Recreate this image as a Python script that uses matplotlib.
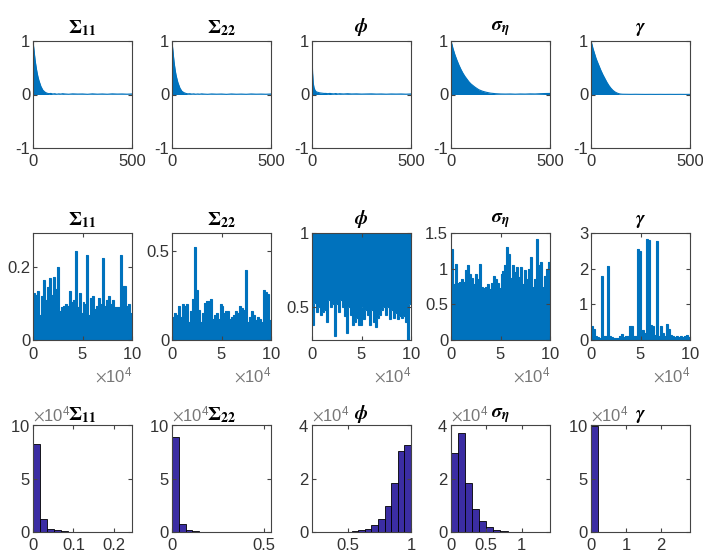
import numpy as np
import matplotlib
matplotlib.use("Agg")
import matplotlib.pyplot as plt
from matplotlib.ticker import FormatStrFormatter, ScalarFormatter

# ---- data ----
titles = [r"$\mathbf{\Sigma_{11}}$", r"$\mathbf{\Sigma_{22}}$", r"$\boldsymbol{\phi}$",
          r"$\boldsymbol{\sigma}_{\boldsymbol{\eta}}$", r"$\boldsymbol{\gamma}$"]

# autocorrelation (row 1)
acf_lags = [0, 3, 6, 10, 15, 20, 25, 30, 40, 50, 60, 70, 80, 90, 100, 110, 120, 130, 140,
            150, 160, 180, 200, 225, 250, 275, 300, 325, 350, 375, 400, 425, 450, 475, 500]
acf_sig11 = [1.0, 0.9, 0.8, 0.66, 0.53, 0.42, 0.33, 0.26, 0.15, 0.08, 0.045, 0.025, 0.015,
             0.02, 0.01, 0.015, 0.005, 0.012, 0.008, 0.015, 0.01, 0.005, 0.012, 0.008, 0.01,
             0.004, 0.012, 0.006, 0.01, 0.005, 0.012, 0.008, 0.01, 0.006, 0.01]
acf_sig22 = [1.0, 0.88, 0.77, 0.62, 0.48, 0.37, 0.29, 0.22, 0.12, 0.06, 0.035, 0.02, 0.012,
             0.015, 0.008, 0.012, 0.005, 0.01, 0.006, 0.012, 0.008, 0.004, 0.01, 0.006, 0.009,
             0.003, 0.01, 0.005, 0.008, 0.004, 0.01, 0.006, 0.008, 0.005, 0.009]
acf_phi = [0.78, 0.4, 0.22, 0.13, 0.08, 0.055, 0.045, 0.04, 0.03, 0.025, 0.02, 0.02, 0.015,
           0.02, 0.015, 0.012, 0.018, 0.01, 0.015, 0.012, 0.01, 0.015, 0.01, 0.012, 0.008,
           0.01, 0.012, 0.008, 0.01, 0.006, 0.01, 0.008, 0.01, 0.006, 0.01]
acf_sigeta = [1.0, 0.96, 0.92, 0.86, 0.8, 0.74, 0.69, 0.64, 0.55, 0.47, 0.4, 0.34, 0.29,
              0.24, 0.2, 0.17, 0.14, 0.115, 0.09, 0.075, 0.06, 0.04, 0.025, 0.015, 0.01,
              0.008, 0.01, 0.006, 0.01, 0.008, 0.012, 0.01, 0.015, 0.018, 0.02]
acf_gamma = [1.0, 0.96, 0.92, 0.86, 0.8, 0.74, 0.68, 0.63, 0.54, 0.45, 0.37, 0.3, 0.23,
             0.17, 0.12, 0.08, 0.05, 0.03, 0.015, 0.008, 0.005, 0.004, 0.003, 0.004, 0.003,
             0.002, 0.003, 0.002, 0.003, 0.002, 0.003, 0.002, 0.003, 0.002, 0.003]

# trace plots (row 2): upper envelope per block of 2000 draws
n_draws = 100000
trace_sig11 = [0.13, 0.125, 0.135, 0.07, 0.12, 0.165, 0.11, 0.145, 0.17, 0.125,
               0.175, 0.14, 0.2, 0.08, 0.09, 0.095, 0.1, 0.095, 0.135, 0.105,
               0.11, 0.245, 0.09, 0.13, 0.075, 0.105, 0.1, 0.235, 0.07, 0.115,
               0.12, 0.085, 0.095, 0.115, 0.1, 0.225, 0.095, 0.11, 0.12, 0.1,
               0.11, 0.09, 0.09, 0.09, 0.235, 0.15, 0.15, 0.095, 0.1, 0.075]
trace_sig22 = [0.13, 0.15, 0.14, 0.19, 0.13, 0.2, 0.19, 0.2, 0.1, 0.16,
               0.23, 0.52, 0.28, 0.17, 0.1, 0.15, 0.21, 0.22, 0.22, 0.23,
               0.12, 0.14, 0.15, 0.12, 0.2, 0.19, 0.15, 0.16, 0.16, 0.12,
               0.13, 0.14, 0.16, 0.15, 0.19, 0.18, 0.17, 0.39, 0.1, 0.13,
               0.16, 0.14, 0.11, 0.13, 0.12, 0.1, 0.28, 0.27, 0.26, 0.11]
trace_phi_low = [0.38, 0.53, 0.47, 0.5, 0.45, 0.47, 0.48, 0.4, 0.55, 0.5,
                 0.52, 0.31, 0.52, 0.47, 0.55, 0.5, 0.44, 0.33, 0.5, 0.45,
                 0.38, 0.4, 0.43, 0.38, 0.38, 0.5, 0.42, 0.48, 0.45, 0.38,
                 0.48, 0.4, 0.37, 0.43, 0.45, 0.48, 0.5, 0.45, 0.5, 0.42,
                 0.48, 0.43, 0.46, 0.42, 0.44, 0.43, 0.44, 0.4, 0.28, 0.52]
phi_max = 0.999
trace_sigeta = [1.27, 0.78, 1.06, 0.8, 0.82, 0.85, 0.82, 0.98, 1.05, 0.93,
                0.87, 0.78, 0.93, 0.85, 1.07, 0.75, 0.73, 0.75, 0.78, 0.72,
                0.8, 0.9, 0.85, 0.8, 0.73, 0.92, 0.97, 1.05, 1.3, 1.2,
                0.87, 1.05, 0.95, 1.03, 0.88, 1.02, 0.78, 0.98, 0.85, 1.0,
                1.17, 0.75, 0.85, 1.42, 1.05, 1.1, 0.75, 0.9, 1.0, 1.1]
trace_gamma = [0.38, 0.3, 0.1, 0.08, 0.07, 1.8, 0.12, 0.1, 2.07, 0.1,
               0.08, 0.06, 0.05, 0.06, 0.1, 0.17, 0.08, 0.1, 0.12, 0.38,
               0.4, 0.1, 0.12, 2.55, 2.5, 0.1, 0.28, 0.2, 2.82, 2.8,
               0.42, 0.38, 0.15, 2.77, 0.1, 0.38, 0.2, 0.12, 0.45, 0.3,
               0.15, 0.1, 0.08, 0.1, 0.08, 0.1, 0.08, 0.12, 0.15, 0.08]

# histograms (row 3): counts and bin range
hist_sig11 = [82000, 12400, 3100, 1500, 500, 250, 120, 60, 30, 20, 10, 5, 3, 2]
hist_sig22 = [89000, 7700, 2000, 700, 300, 150, 60, 30, 20, 10, 10, 5, 3, 2]
hist_phi = [10, 20, 30, 50, 80, 150, 300, 600, 1300, 2500, 5000, 9600, 18300, 30200, 32700]
hist_sigeta = [29600, 36900, 18500, 8500, 4100, 1800, 900, 400, 150, 80, 50, 30, 20, 10]
hist_gamma = [99500, 200, 100, 60, 40, 30, 20, 15, 10, 10, 8, 5, 5, 3]
hist_ranges = [(0, 0.245), (0, 0.52), (0.22, 1.0), (0, 1.4), (0, 2.82)]

# ---- style ----
blue = "#0072BD"
bar_color = "#3B2DA3"
tick_gray = "#333333"
plt.rcParams.update({
    "font.family": ["Liberation Sans", "DejaVu Sans"],
    "font.size": 12,
    "mathtext.fontset": "stix",
    "axes.unicode_minus": False,
    "axes.linewidth": 0.8,
    "axes.edgecolor": "#444444",
    "xtick.direction": "in",
    "ytick.direction": "in",
    "xtick.top": True,
    "ytick.right": True,
    "xtick.major.size": 3,
    "ytick.major.size": 3,
    "xtick.major.pad": 4,
    "ytick.major.pad": 2,
    "xtick.color": "#444444",
    "ytick.color": "#444444",
    "xtick.labelcolor": tick_gray,
    "ytick.labelcolor": tick_gray,
})

W, H = 703, 554
fig = plt.figure(figsize=(W / 100, H / 100), dpi=100)
col_left = [33, 172, 312, 451, 591]
row_top = [41, 233, 425]
ax_w, ax_h = 99, 107


def make_ax(r, c):
    left = col_left[c] / W
    bottom = (H - row_top[r] - ax_h) / H
    return fig.add_axes([left, bottom, ax_w / W, ax_h / H])


def add_title(ax, text, y=1.03):
    ax.text(0.5, y, text, transform=ax.transAxes, ha="center", va="bottom",
            fontsize=14, color="black")


# row 1: autocorrelation
acfs = [acf_sig11, acf_sig22, acf_phi, acf_sigeta, acf_gamma]
for c, acf in enumerate(acfs):
    ax = make_ax(0, c)
    ax.fill_between(acf_lags, 0, acf, color=blue, lw=0)
    ax.plot(acf_lags, acf, color=blue, lw=0.8)
    ax.set_xlim(0, 500)
    ax.set_ylim(-1, 1)
    ax.set_xticks([0, 500])
    ax.set_yticks([-1, 0, 1])
    add_title(ax, titles[c])

# row 2: traces
edges = np.linspace(0, n_draws, len(trace_sig11) + 1)
traces = [
    (trace_sig11, 0, (0, 0.295), [0, 0.2]),
    (trace_sig22, 0, (0, 0.6), [0, 0.5]),
    ([phi_max] * len(trace_phi_low), trace_phi_low, (0.28, 1.0), [0.5, 1]),
    (trace_sigeta, 0, (0, 1.5), [0, 0.5, 1, 1.5]),
    (trace_gamma, 0, (0, 3), [0, 1, 2, 3]),
]
for c, (hi, lo, ylim, yt) in enumerate(traces):
    ax = make_ax(1, c)
    ax.stairs(hi, edges, baseline=lo, fill=True, color=blue, lw=0)
    ax.stairs(hi, edges, baseline=None, color=blue, lw=0.8)
    if c == 2:
        ax.stairs(lo, edges, baseline=None, color=blue, lw=0.8)
    ax.set_xlim(0, n_draws)
    ax.set_ylim(*ylim)
    ax.set_xticks([0, 50000, 100000])
    ax.set_yticks(yt)
    fmt = ScalarFormatter(useMathText=True)
    fmt.set_powerlimits((4, 4))
    ax.xaxis.set_major_formatter(fmt)
    ax.xaxis.get_offset_text().set_color("#777777")
    ax.xaxis.get_offset_text().set_fontsize(12)
    ax.yaxis.set_major_formatter(FormatStrFormatter("%g"))
    add_title(ax, titles[c])

# row 3: histograms
hists = [hist_sig11, hist_sig22, hist_phi, hist_sigeta, hist_gamma]
hist_xlim = [(0, 0.245), (0, 0.54), (0.22, 1.0), (0, 1.4), (0, 2.83)]
hist_xticks = [[0, 0.1, 0.2], [0, 0.5], [0.5, 1], [0, 0.5, 1], [0, 1, 2]]
hist_ylim = [100000, 100000, 40000, 40000, 100000]
hist_yticks = [[0, 50000, 100000], [0, 50000, 100000], [0, 20000, 40000],
               [0, 20000, 40000], [0, 50000, 100000]]
for c, counts in enumerate(hists):
    ax = make_ax(2, c)
    lo, hi = hist_ranges[c]
    b = np.linspace(lo, hi, len(counts) + 1)
    ax.bar(b[:-1], counts, width=np.diff(b), align="edge", color=bar_color,
           edgecolor="black", lw=0.6)
    ax.set_xlim(*hist_xlim[c])
    ax.set_ylim(0, hist_ylim[c])
    ax.set_xticks(hist_xticks[c])
    ax.set_yticks(hist_yticks[c])
    ax.xaxis.set_major_formatter(FormatStrFormatter("%g"))
    fmt = ScalarFormatter(useMathText=True)
    fmt.set_powerlimits((4, 4))
    ax.yaxis.set_major_formatter(fmt)
    ax.yaxis.get_offset_text().set_color("#777777")
    ax.yaxis.get_offset_text().set_fontsize(12)
    add_title(ax, titles[c], y=1.0)

fig.savefig("out.png", dpi=100)
